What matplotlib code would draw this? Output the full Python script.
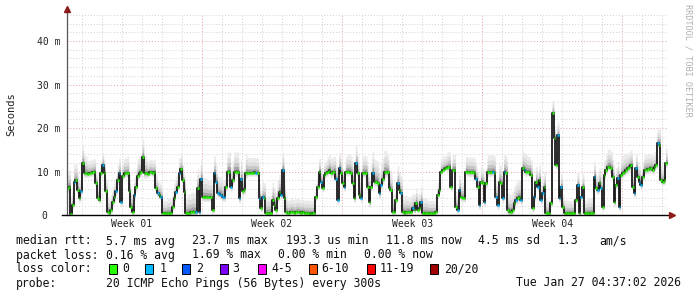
import numpy as np
import matplotlib
matplotlib.use("Agg")
import matplotlib.pyplot as plt
from matplotlib.patches import Rectangle
from matplotlib.collections import LineCollection

# median rtt, one value per 2 hour step (ms)
median_ms = [
    6.2, 6.5, 0.3, 2.3, 7.7, 8.0, 5.7, 3.9, 5.5, 12.0,
    9.6, 9.6, 9.5, 9.6, 9.6, 9.8, 10.0, 7.3, 4.0, 3.5,
    9.6, 11.5, 9.6, 5.5, 0.8, 0.4, 1.2, 3.0, 4.1, 5.5,
    8.0, 9.6, 3.0, 9.0, 9.6, 9.6, 9.6, 5.5, 1.9, 0.8,
    4.6, 6.5, 9.0, 9.6, 10.0, 13.4, 9.6, 9.6, 9.4, 9.8,
    9.8, 9.6, 9.8, 6.2, 5.0, 4.6, 4.1, 0.4, 0.4, 0.4,
    0.4, 0.4, 0.4, 1.9, 3.9, 5.4, 6.5, 9.6, 10.5, 8.0,
    5.4, 0.4, 0.4, 0.4, 0.6, 0.8, 0.6, 0.8, 6.2, 0.8,
    8.2, 4.1, 4.1, 4.1, 4.1, 4.1, 4.1, 1.2, 9.6, 7.7,
    5.0, 4.8, 4.6, 4.1, 4.1, 6.5, 10.0, 10.0, 6.5, 8.0,
    10.0, 10.0, 10.0, 3.9, 8.2, 5.5, 6.0, 9.6, 9.7, 9.7,
    9.7, 9.7, 9.8, 9.7, 9.6, 3.9, 1.5, 4.1, 3.9, 0.4,
    0.4, 0.4, 0.4, 3.5, 2.3, 1.2, 3.9, 5.4, 4.6, 10.4,
    3.9, 0.6, 0.4, 0.5, 0.8, 0.6, 0.5, 0.7, 0.8, 0.6,
    0.5, 0.7, 0.4, 0.5, 0.4, 0.4, 0.3, 0.4, 0.4, 4.1,
    6.5, 10.0, 7.7, 6.2, 9.2, 9.6, 10.0, 10.4, 9.6, 9.8,
    10.0, 8.2, 3.5, 10.8, 9.6, 7.3, 6.5, 10.0, 10.0, 10.0,
    9.6, 7.3, 3.9, 11.9, 9.6, 4.6, 3.9, 9.6, 9.7, 9.6,
    6.5, 3.0, 6.5, 9.6, 7.7, 7.7, 7.3, 5.0, 7.0, 8.2,
    9.8, 9.8, 9.8, 6.2, 5.7, 0.8, 0.8, 3.5, 7.3, 5.7,
    5.0, 0.8, 0.4, 0.6, 0.8, 0.6, 0.8, 1.5, 1.2, 2.7,
    1.2, 1.5, 3.0, 0.4, 0.4, 0.4, 0.4, 0.4, 0.4, 0.4,
    0.4, 0.8, 4.6, 5.7, 10.0, 10.4, 10.6, 10.8, 11.0, 11.1,
    6.5, 10.4, 10.4, 1.9, 1.2, 5.7, 4.1, 4.0, 3.9, 10.0,
    9.8, 9.8, 9.8, 9.8, 9.6, 8.2, 6.5, 2.3, 7.7, 7.3,
    3.0, 7.3, 9.8, 9.8, 9.8, 10.0, 9.6, 4.1, 2.3, 7.7,
    7.3, 3.9, 10.0, 9.6, 1.2, 0.8, 0.8, 1.2, 2.7, 3.5,
    3.9, 4.1, 3.5, 10.7, 10.3, 10.0, 10.0, 10.0, 9.2, 1.6,
    4.2, 7.7, 6.5, 8.0, 3.5, 5.0, 6.5, 0.4, 0.4, 0.4,
    2.7, 23.4, 17.6, 11.5, 18.4, 3.9, 6.5, 1.9, 0.4, 0.4,
    0.4, 0.4, 0.4, 0.4, 0.4, 3.5, 6.9, 0.4, 4.2, 6.5,
    0.4, 0.4, 0.4, 0.4, 0.4, 0.4, 8.8, 6.1, 5.7, 7.3,
    6.1, 1.9, 9.2, 10.3, 11.1, 11.1, 10.7, 8.8, 3.0, 6.9,
    8.4, 1.9, 9.2, 9.6, 10.0, 10.3, 10.7, 11.1, 11.5, 6.5,
    5.0, 10.7, 8.8, 7.7, 6.9, 8.8, 10.3, 10.4, 10.5, 10.6,
    10.7, 10.3, 11.1, 11.5, 16.5, 16.1, 8.0, 7.7, 8.0, 11.9,
]

# steps that lost one ping out of 20
one_loss_steps = [4, 8, 21, 29, 31, 32, 40, 54, 56, 65, 67, 77, 79, 80, 88,
                  89, 90, 91, 92, 93, 94, 98, 103, 104, 113, 115, 117, 128,
                  129, 152, 161, 162, 163, 166, 173, 176, 183, 187, 188, 198,
                  200, 207, 212, 234, 235, 245, 247, 250, 255, 257, 258, 261,
                  262, 269, 272, 274, 280, 282, 284, 285, 294, 295, 296, 306,
                  308, 316, 318, 320, 330, 331, 340, 341, 343, 344, 354]

# smoke (ping spread) above and below the median, per day (ms)
smoke_up_ms = [4.0, 3.0, 3.5, 4.0, 3.0, 3.5, 4.5, 4.0, 4.5, 3.5,
               4.0, 3.0, 3.0, 3.5, 4.0, 5.0, 4.0, 3.5, 3.0, 3.5,
               3.5, 4.0, 4.0, 3.5, 3.0, 3.0, 3.5, 4.0, 3.5, 3.5]
smoke_down_ms = [1.0, 0.8, 1.0, 1.2, 0.8, 0.8, 1.0, 1.0, 1.2, 0.8,
                 1.0, 0.6, 0.8, 1.0, 1.0, 1.2, 1.0, 0.8, 0.6, 1.0,
                 1.0, 1.0, 1.2, 1.0, 1.0, 0.8, 1.0, 1.0, 1.0, 1.0]

week_labels = ["Week 01", "Week 02", "Week 03", "Week 04"]
week_centers_h = [78, 246, 414, 582]
y_labels = ["0  ", "10 m", "20 m", "30 m", "40 m"]

loss_names = ["0", "1", "2", "3", "4-5", "6-10", "11-19", "20/20"]
loss_colors = ["#26ff00", "#00b8ff", "#0059ff", "#7e00ff", "#ff00ff",
               "#ff5500", "#ff0000", "#a00000"]

W, H = 697, 297
MONO = "DejaVu Sans Mono"

fig = plt.figure(figsize=(W / 100, H / 100), dpi=100)
fig.patch.set_facecolor("white")
ax = fig.add_axes([67 / W, (H - 215) / H, 601 / W, 200 / H])
ax.set_facecolor("white")

n = len(median_ms)
med = np.array(median_ms)
t_edges = np.arange(n + 1) * 2.0
up = np.repeat(smoke_up_ms, 12)[:n]
down = np.repeat(smoke_down_ms, 12)[:n]

# grid
for yv in np.arange(2, 47, 2):
    major = yv % 10 == 0
    ax.axhline(yv, color="#e4a0a0" if major else "#d0d0d0",
               lw=0.7, ls=(0, (1, 2)), zorder=0)
for xv in np.arange(18, 721, 24):
    major = (xv - 162) % 168 == 0
    ax.axvline(xv, color="#e4a0a0" if major else "#d0d0d0",
               lw=0.7, ls=(0, (1, 2)), zorder=0)

# smoke
fracs = [1.0, 0.7, 0.45, 0.25, 0.1]
greys = ["#ebebeb", "#dddddd", "#c6c6c6", "#a2a2a2", "#727272"]
for f, c in zip(fracs, greys):
    lo = np.clip(med - f * down, 0, None)
    hi = med + f * up
    ax.fill_between(t_edges, np.append(lo, lo[-1]), np.append(hi, hi[-1]),
                    step="post", color=c, lw=0, zorder=1)

# median line: black steps plus loss coloured plateaus
ax.step(t_edges, np.append(med, med[-1]), where="post", color="#1a1a1a",
        lw=1.3, zorder=3)
loss = np.zeros(n, dtype=int)
loss[one_loss_steps] = 1
segs = [[(t_edges[i], med[i]), (t_edges[i + 1], med[i])] for i in range(n)]
cols = [loss_colors[l] for l in loss]
ax.add_collection(LineCollection(segs, colors=cols, linewidths=1.8, zorder=4))

ax.set_xlim(0, 721)
ax.set_ylim(0, 46)
for s in ax.spines.values():
    s.set_visible(False)

ax.set_yticks([0, 10, 20, 30, 40])
ax.set_yticklabels(y_labels, family=MONO, fontsize=7, color="#222222")
ax.set_xticks(week_centers_h)
ax.set_xticklabels(week_labels, family=MONO, fontsize=7, color="#222222")
ax.tick_params(axis="y", length=0, pad=5)
ax.tick_params(axis="x", length=0, pad=3)

# axes with arrows
ax.plot([0, 0], [0, 1.025], transform=ax.transAxes, color="#555555",
        lw=0.9, clip_on=False, zorder=5)
ax.plot([-5 / 601, 1.006], [0, 0], transform=ax.transAxes, color="black",
        lw=1.0, clip_on=False, zorder=5)
ax.plot([0], [1.028], transform=ax.transAxes, marker="^", ms=4,
        color="#8b1a1a", clip_on=False, zorder=6)
ax.plot([1.006], [0], transform=ax.transAxes, marker=">", ms=4,
        color="#8b1a1a", clip_on=False, zorder=6)

fig.text(11 / W, 1 - 114 / H, "Seconds", rotation=90, ha="center",
         va="center", family=MONO, fontsize=7.5, color="#222222")
fig.text(688 / W, 1 - 60 / H, "RRDTOOL / TOBI OETIKER", rotation=270,
         ha="center", va="center", family=MONO, fontsize=6.1, color="#b0b0b0")

# legend rows
def row(x, y, s, **kw):
    fig.text(x / W, 1 - y / H, s, family=MONO, fontsize=8.3, va="center",
             color="#111111", **kw)

row(16, 241, "median rtt:")
for x, s in [(106, "5.7 ms avg"), (192.5, "23.7 ms max"),
             (286, "193.3 us min"), (386, "11.8 ms now"),
             (478.5, "4.5 ms sd"), (557.5, "1.3"), (599.5, "am/s")]:
    row(x, 241, s)
row(16, 255, "packet loss:")
for x, s in [(106, "0.16 % avg"), (192.5, "1.69 % max"),
             (278.5, "0.00 % min"), (364.5, "0.00 % now")]:
    row(x, 255, s)
row(16, 269, "loss color:")
box_x = [109, 145, 182, 219.5, 257.5, 308.5, 366.7, 430]
label_x = [122.5, 159.5, 196, 232.5, 271, 321, 379.5, 444.5]
for bx, lx, name, c in zip(box_x, label_x, loss_names, loss_colors):
    fig.patches.append(Rectangle((bx / W, 1 - 273.5 / H), 8 / W, 9.5 / H,
                                 transform=fig.transFigure, facecolor=c,
                                 edgecolor="black", lw=0.7))
    row(lx, 269, name)
row(16, 283, "probe:")
row(106, 283, "20 ICMP Echo Pings (56 Bytes) every 300s")
row(680.5, 283, "Tue Jan 27 04:37:02 2026", ha="right")

fig.savefig("out.png", dpi=100, facecolor="white")
